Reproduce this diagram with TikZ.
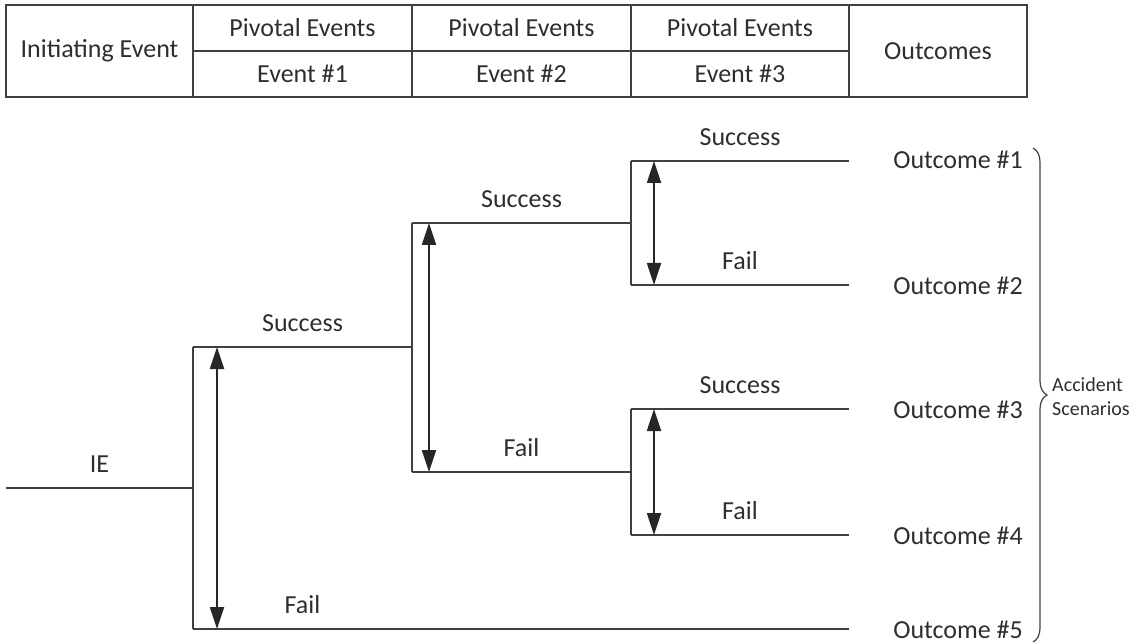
\documentclass[tikz,border=0pt]{standalone}
\usepackage{fontspec}
\setmainfont{Carlito}
\usetikzlibrary{arrows.meta,decorations.pathreplacing}
\definecolor{linegray}{HTML}{404040}
\definecolor{textgray}{HTML}{2E2E2E}
\begin{document}
\begin{tikzpicture}[x=1pt,y=-1pt,
  branch/.style={draw=linegray, line width=1.8pt},
  tablebox/.style={draw=linegray, line width=1.6pt},
  dblarrow/.style={draw=black!85, line width=1.8pt,
    {Triangle[length=22pt,width=14pt]}-{Triangle[length=22pt,width=14pt]}},
  lbl/.style={font=\fontsize{26}{30}\selectfont, text=textgray, inner sep=0pt},
  small/.style={font=\fontsize{20}{24}\selectfont, text=textgray, inner sep=0pt, align=left},
  bracestyle/.style={draw=linegray, line width=1.2pt, decorate,
    decoration={brace, amplitude=14pt}}]
\useasboundingbox (0,0) rectangle (1148,644);

% ---------- table ----------
\coordinate (tTL) at (6,5);
\coordinate (tBR) at (1027,97);
\draw[tablebox] (tTL) rectangle (tBR);
\foreach \x in {193,412,631,849}{
  \draw[tablebox] (\x,5) -- (\x,97);
}
\draw[tablebox] (193,51) -- (849,51);

\node[lbl] (hIE) at (99.5,51) {Initiating Event};
\node[lbl] (hP1) at (302.5,28) {Pivotal Events};
\node[lbl] (hP2) at (521.5,28) {Pivotal Events};
\node[lbl] (hP3) at (740,28) {Pivotal Events};
\node[lbl] (hE1) at (302.5,74) {Event \#1};
\node[lbl] (hE2) at (521.5,74) {Event \#2};
\node[lbl] (hE3) at (740,74) {Event \#3};
\node[lbl] (hOut) at (938,51) {Outcomes};

% ---------- tree coordinates ----------
\coordinate (ie0) at (6,488);
\coordinate (n1) at (193,488);
\coordinate (n1t) at (193,347);
\coordinate (n1b) at (193,629);
\coordinate (n2) at (412,347);
\coordinate (n2t) at (412,223);
\coordinate (n2b) at (412,472);
\coordinate (n3) at (631,223);
\coordinate (n3t) at (631,161);
\coordinate (n3b) at (631,285);
\coordinate (n4) at (631,472);
\coordinate (n4t) at (631,409);
\coordinate (n4b) at (631,535);
\coordinate (o1) at (849,161);
\coordinate (o2) at (849,285);
\coordinate (o3) at (849,409);
\coordinate (o4) at (849,535);
\coordinate (o5) at (849,629);

\coordinate (a1t) at (217,347);
\coordinate (a1b) at (217,629);
\coordinate (a2t) at (429,223);
\coordinate (a2b) at (429,472);
\coordinate (a3t) at (654,161);
\coordinate (a3b) at (654,285);
\coordinate (a4t) at (654,409);
\coordinate (a4b) at (654,535);

% ---------- branches ----------
\draw[branch] (ie0) -- (n1);
\draw[branch] (n1t) -- (n1b);
\draw[branch] (n1t) -- (n2);
\draw[branch] (n1b) -- (o5);
\draw[branch] (n2t) -- (n2b);
\draw[branch] (n2t) -- (n3);
\draw[branch] (n2b) -- (n4);
\draw[branch] (n3t) -- (n3b);
\draw[branch] (n3t) -- (o1);
\draw[branch] (n3b) -- (o2);
\draw[branch] (n4t) -- (n4b);
\draw[branch] (n4t) -- (o3);
\draw[branch] (n4b) -- (o4);

% ---------- double arrows ----------
\draw[dblarrow] (a1t) -- (a1b);
\draw[dblarrow] (a2t) -- (a2b);
\draw[dblarrow] (a3t) -- (a3b);
\draw[dblarrow] (a4t) -- (a4b);

% ---------- branch labels ----------
\node[lbl] (lIE) at (99.5,464) {IE};
\node[lbl] (lS1) at (302.5,323) {Success};
\node[lbl] (lF1) at (302.5,605) {Fail};
\node[lbl] (lS2) at (521.5,199) {Success};
\node[lbl] (lF2) at (521.5,448) {Fail};
\node[lbl] (lS3) at (740,137) {Success};
\node[lbl] (lF3) at (740,261) {Fail};
\node[lbl] (lS4) at (740,385) {Success};
\node[lbl] (lF4) at (740,511) {Fail};

% ---------- outcomes ----------
\node[lbl,anchor=east] (out1) at (1023,160) {Outcome \#1};
\node[lbl,anchor=east] (out2) at (1023,286) {Outcome \#2};
\node[lbl,anchor=east] (out3) at (1023,410) {Outcome \#3};
\node[lbl,anchor=east] (out4) at (1023,536) {Outcome \#4};
\node[lbl,anchor=east] (out5) at (1023,630) {Outcome \#5};

% ---------- brace ----------
\coordinate (bTop) at (1033,148);
\coordinate (bBot) at (1033,642);
\draw[bracestyle] (bTop) -- (bBot);
\node[small,anchor=west] (acc) at (1052,397) {Accident\\Scenarios};
\end{tikzpicture}
\end{document}
